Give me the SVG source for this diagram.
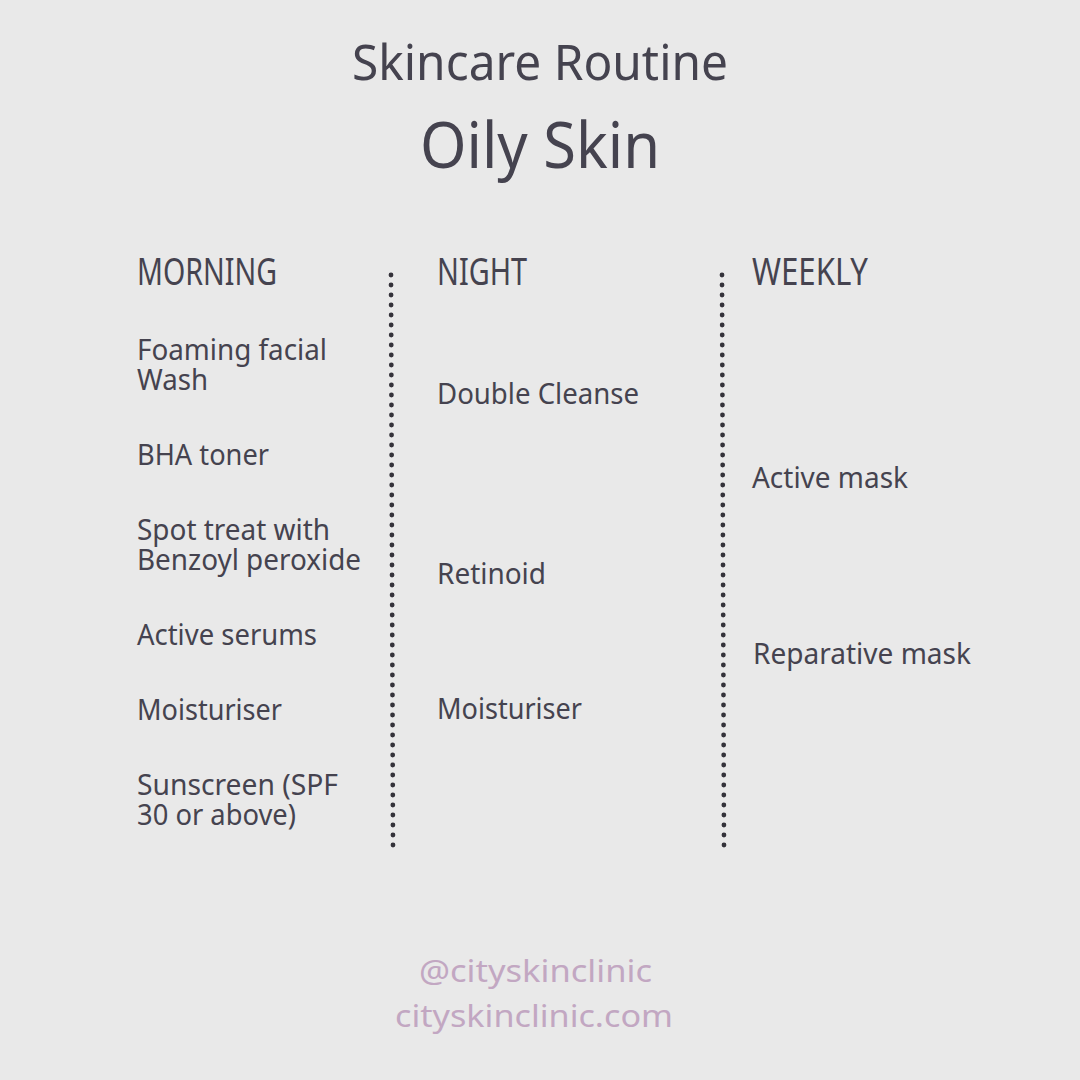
<svg xmlns="http://www.w3.org/2000/svg" width="1080" height="1080" viewBox="0 0 1080 1080">
<style>
text{font-family:"Source Sans Pro","Noto Sans","Liberation Sans",sans-serif;fill:#45434f}
.t1{font-size:50px}
.t2{font-size:64px}
.hd{font-size:38px}
.it{font-size:29px}
.ft{font-size:30px;fill:#c2a7c2}
.dots{stroke:#34323a;stroke-width:4.8;stroke-linecap:round;stroke-dasharray:0 10;fill:none}
</style>
<rect width="1080" height="1080" fill="#e9e9e9"/>
<g id="title">
<text class="t1" x="352" y="80" textLength="376" lengthAdjust="spacingAndGlyphs">Skincare Routine</text>
<text class="t2" x="420" y="168" textLength="240" lengthAdjust="spacingAndGlyphs">Oily Skin</text>
</g>
<g id="connectors">
<line class="dots" x1="391" y1="275" x2="393" y2="846"/>
<line class="dots" x1="722" y1="275" x2="724" y2="846"/>
</g>
<g id="morning">
<text class="hd" x="137" y="285" textLength="140" lengthAdjust="spacingAndGlyphs">MORNING</text>
<text class="it"><tspan x="137" y="360" textLength="190" lengthAdjust="spacingAndGlyphs">Foaming facial</tspan><tspan x="137" y="390" textLength="71" lengthAdjust="spacingAndGlyphs">Wash</tspan></text>
<text class="it" x="137" y="465" textLength="132" lengthAdjust="spacingAndGlyphs">BHA toner</text>
<text class="it"><tspan x="137" y="540" textLength="193" lengthAdjust="spacingAndGlyphs">Spot treat with</tspan><tspan x="137" y="570" textLength="224" lengthAdjust="spacingAndGlyphs">Benzoyl peroxide</tspan></text>
<text class="it" x="137" y="645" textLength="180" lengthAdjust="spacingAndGlyphs">Active serums</text>
<text class="it" x="137" y="720" textLength="145" lengthAdjust="spacingAndGlyphs">Moisturiser</text>
<text class="it"><tspan x="137" y="795" textLength="201" lengthAdjust="spacingAndGlyphs">Sunscreen (SPF</tspan><tspan x="137" y="825" textLength="159" lengthAdjust="spacingAndGlyphs">30 or above)</tspan></text>
</g>
<g id="night">
<text class="hd" x="437" y="285" textLength="90" lengthAdjust="spacingAndGlyphs">NIGHT</text>
<text class="it" x="437" y="404" textLength="202" lengthAdjust="spacingAndGlyphs">Double Cleanse</text>
<text class="it" x="437" y="584" textLength="109" lengthAdjust="spacingAndGlyphs">Retinoid</text>
<text class="it" x="437" y="719" textLength="145" lengthAdjust="spacingAndGlyphs">Moisturiser</text>
</g>
<g id="weekly">
<text class="hd" x="752" y="285" textLength="116" lengthAdjust="spacingAndGlyphs">WEEKLY</text>
<text class="it" x="752" y="488" textLength="156" lengthAdjust="spacingAndGlyphs">Active mask</text>
<text class="it" x="753" y="664" textLength="218" lengthAdjust="spacingAndGlyphs">Reparative mask</text>
</g>
<g id="footer">
<text class="ft" x="419" y="982" textLength="233" lengthAdjust="spacingAndGlyphs">@cityskinclinic</text>
<text class="ft" x="395" y="1027" textLength="278" lengthAdjust="spacingAndGlyphs">cityskinclinic.com</text>
</g>
</svg>
